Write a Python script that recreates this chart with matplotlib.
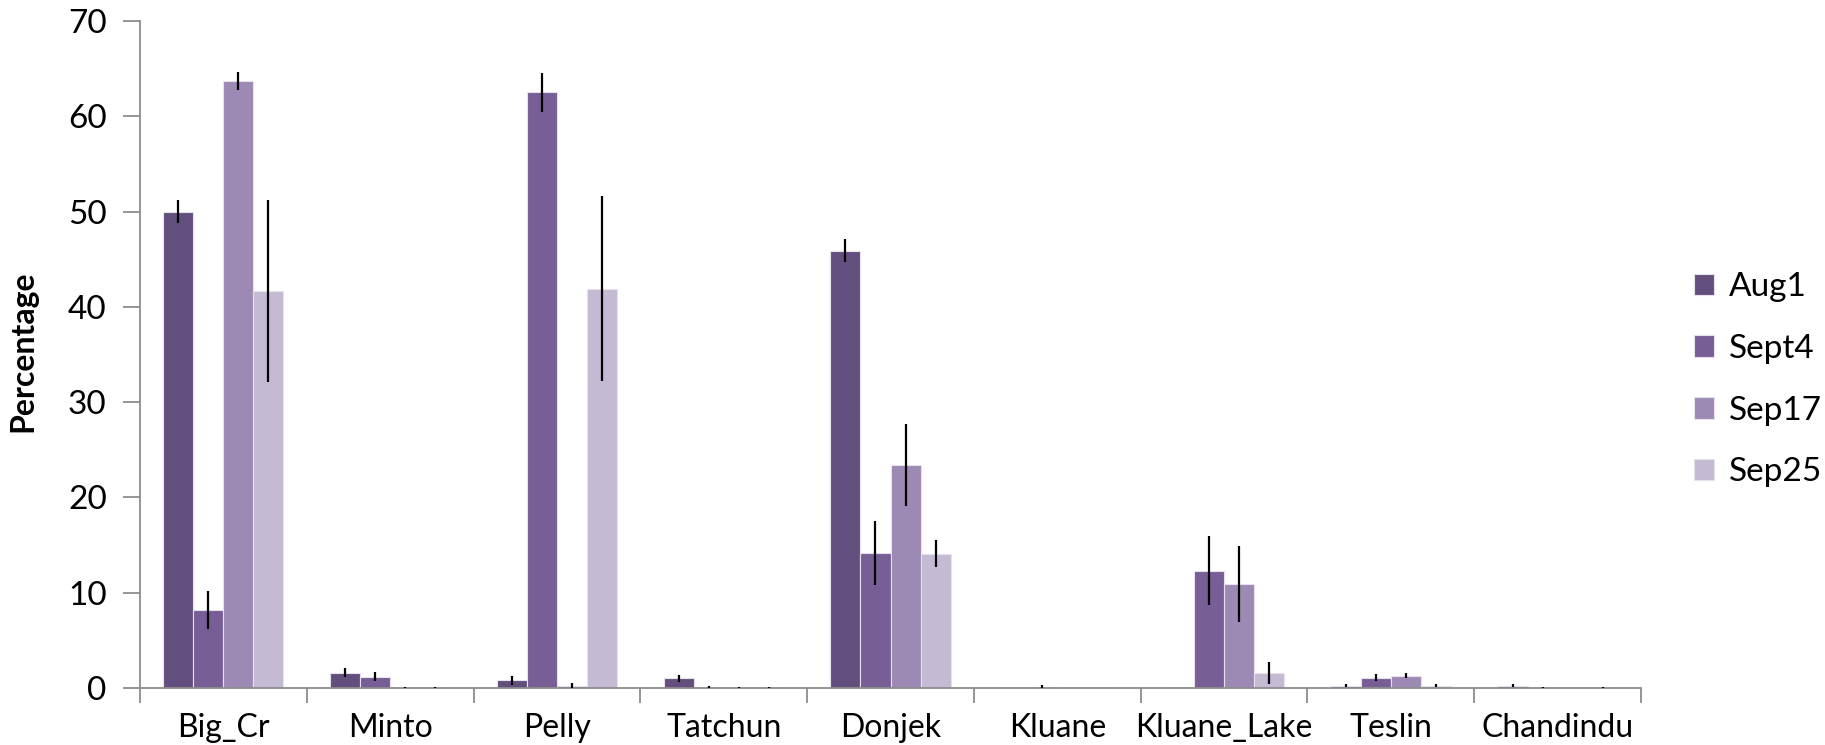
import numpy as np
import matplotlib.pyplot as plt

sites = ["Big_Cr", "Minto", "Pelly", "Tatchun", "Donjek", "Kluane",
         "Kluane_Lake", "Teslin", "Chandindu"]
dates = ["Aug1", "Sept4", "Sep17", "Sep25"]

# mean percentage per site, one list per sampling date
aug1 = [50.0, 1.6, 0.8, 1.0, 45.9, 0.05, 0.0, 0.25, 0.25]
sept4 = [8.2, 1.2, 62.5, 0.1, 14.2, 0.15, 12.3, 1.1, 0.05]
sep17 = [63.7, 0.05, 0.25, 0.05, 23.4, 0.05, 10.9, 1.3, 0.05]
sep25 = [41.7, 0.05, 41.9, 0.05, 14.1, 0.0, 1.6, 0.25, 0.05]

# standard errors
aug1_err = [1.25, 0.47, 0.45, 0.4, 1.2, 0.0, 0.0, 0.15, 0.12]
sept4_err = [2.0, 0.5, 2.05, 0.1, 3.35, 0.12, 3.6, 0.37, 0.05]
sep17_err = [0.95, 0.08, 0.25, 0.05, 4.35, 0.0, 4.0, 0.27, 0.0]
sep25_err = [9.55, 0.05, 9.7, 0.08, 1.45, 0.0, 1.15, 0.15, 0.08]

means = [aug1, sept4, sep17, sep25]
errs = [aug1_err, sept4_err, sep17_err, sep25_err]
colors = ["#634F7E", "#775E97", "#9C8AB4", "#C4BAD3"]

fig = plt.figure(figsize=(18.25, 7.45), dpi=100)
ax = fig.add_axes([140/1825, 57/745, 1501/1825, 667/745])

x = np.arange(len(sites))
w = 0.18
for i in range(4):
    pos = x - 1.5*w + i*w
    ax.bar(pos, means[i], width=w, color=colors[i], edgecolor="#E6E1EC",
           linewidth=0.8, label=dates[i], zorder=2)
    ax.errorbar(pos, means[i], yerr=errs[i], fmt="none", ecolor="black",
                elinewidth=1.6, capsize=0, zorder=3)

ax.set_xlim(-0.5, len(sites) - 0.5)
ax.set_ylim(0, 70)
ax.set_yticks(range(0, 71, 10))
ax.set_yticklabels([str(v) for v in range(0, 71, 10)], fontsize=24, family="Lato")
ax.set_xticks(x)
ax.set_xticklabels(sites, fontsize=23, family="Lato")
ax.set_xticks(np.arange(-0.5, len(sites), 1.0), minor=True)
ax.tick_params(axis="x", which="major", length=0, pad=18)
ax.tick_params(axis="x", which="minor", length=11, width=1.3, color="#8C8C8C")
ax.tick_params(axis="y", length=12, width=1.3, color="#8C8C8C", pad=12)

for s in ["top", "right"]:
    ax.spines[s].set_visible(False)
for s in ["left", "bottom"]:
    ax.spines[s].set_color("#8C8C8C")
    ax.spines[s].set_linewidth(1.3)

ax.set_ylabel("Percentage", fontsize=23, fontweight="bold", family="Lato")
ax.yaxis.set_label_coords(-0.0686, 0.505)

leg = ax.legend(loc="center left", bbox_to_anchor=(1.015, 0.462), frameon=False,
                prop={"family": "Lato", "size": 24}, handlelength=0.62,
                handleheight=0.62, handletextpad=0.45, labelspacing=0.95)

fig.savefig("out.png", dpi=100)
